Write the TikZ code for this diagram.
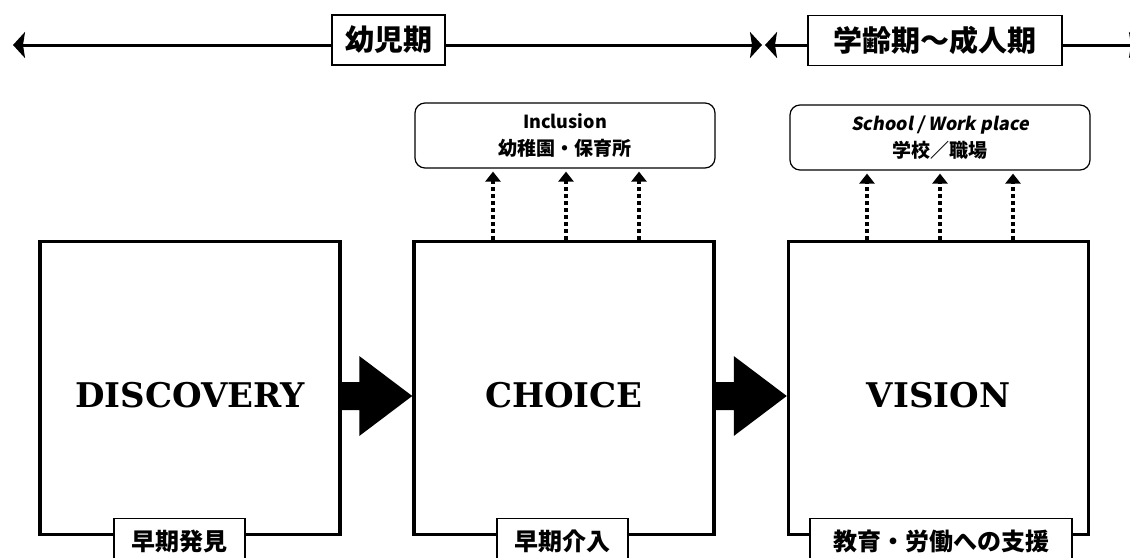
\documentclass[tikz,border=0pt]{standalone}
\usepackage{fontspec}
\newfontfamily\jp{Noto Sans CJK JP}
\newfontfamily\jpsl{Noto Sans CJK JP}[FakeSlant=0.18]
\newfontfamily\heavyserif{DejaVu Serif}
\usetikzlibrary{arrows.meta,calc}
\begin{document}
\begin{tikzpicture}[x=1pt,y=-1pt,
  bigbox/.style={draw,line width=3.5pt,minimum width=300pt,minimum height=293pt,inner sep=0pt},
  bigword/.style={font=\heavyserif\bfseries\fontsize{34}{40}\selectfont},
  period/.style={draw,line width=1.3pt,fill=white,minimum height=50pt,inner sep=0pt,font=\jp\bfseries\fontsize{29}{32}\selectfont},
  phase/.style={draw,line width=1.3pt,fill=white,minimum height=46pt,inner sep=0pt,anchor=north,font=\jp\bfseries\fontsize{24}{28}\selectfont},
  place/.style={draw,line width=1.2pt,rounded corners=10pt,minimum width=300pt,minimum height=65pt,inner sep=0pt,align=center,font=\jp\bfseries\fontsize{19}{27}\selectfont},
  timeline/.style={line width=3pt,-{Stealth[length=12pt,width=26pt,inset=2pt]}},
  dotarrow/.style={line width=3.2pt,dash pattern=on 3.5pt off 3.5pt,-{Triangle[length=10pt,width=15pt]},shorten >=3pt}
]
\useasboundingbox (0,0) rectangle (1130,557);
\clip (0,0) rectangle (1130,557);

% main stage boxes
\node[bigbox] (disc) at (190,388) {};
\node[bigbox] (choice) at (564,388) {};
\node[bigbox] (vision) at (938.5,388) {};
\node[bigword] (discT) at ([yshift=-7pt]disc.center) {DISCOVERY};
\node[bigword] (choiceT) at ([yshift=-7pt]choice.center) {CHOICE};
\node[bigword] (visionT) at ([yshift=-7pt]vision.center) {VISION};

% phase labels at the bottom
\node[phase,minimum width=131pt] (ph1) at (179.5,518) {早期発見};
\node[phase,minimum width=131pt] (ph2) at (562.5,518) {早期介入};
\node[phase,minimum width=262pt] (ph3) at (941,518) {教育・労働への支援};

% big arrows between the boxes
\coordinate (a1s) at ([yshift=-8pt]disc.east);
\coordinate (a1e) at ([yshift=-8pt]choice.west);
\fill ($(a1s)+(0,-14)$) -- ($(a1e)+(-53,-14)$) -- ($(a1e)+(-53,-40)$) -- (a1e)
      -- ($(a1e)+(-53,40)$) -- ($(a1e)+(-53,14)$) -- ($(a1s)+(0,14)$) -- cycle;
\coordinate (a2s) at ([yshift=-8pt]choice.east);
\coordinate (a2e) at ([yshift=-8pt]vision.west);
\fill ($(a2s)+(0,-14)$) -- ($(a2e)+(-53,-14)$) -- ($(a2e)+(-53,-40)$) -- (a2e)
      -- ($(a2e)+(-53,40)$) -- ($(a2e)+(-53,14)$) -- ($(a2s)+(0,14)$) -- cycle;

% place boxes
\node[place] (incl) at (565,135.5) {{\fontsize{18}{20}\selectfont Inclusion}\\幼稚園・保育所};
\node[place] (school) at (940,137.5) {{\jpsl\fontsize{18}{20}\selectfont School / Work place}\\学校／職場};

% dotted arrows
\coordinate (d1) at (493,0);
\coordinate (d2) at (566,0);
\coordinate (d3) at (639,0);
\coordinate (d4) at (867,0);
\coordinate (d5) at (940,0);
\coordinate (d6) at (1013,0);
\foreach \d in {d1,d2,d3}{\draw[dotarrow] (choice.north -| \d) -- (incl.south -| \d);}
\foreach \d in {d4,d5,d6}{\draw[dotarrow] (vision.north -| \d) -- (school.south -| \d);}

% timeline
\node[period,minimum width=113pt] (p1) at (388.5,40) {幼児期};
\node[period,minimum width=254pt] (p2) at (935,40.5) {学齢期～成人期};
\coordinate (L) at (13,45);
\coordinate (M1) at (762,45);
\coordinate (M2) at (765,45);
\coordinate (R) at (1141,45);
\draw[timeline] (L -| p1.west) -- (L);
\draw[timeline] (M1 -| p1.east) -- (M1);
\draw[timeline] (M2 -| p2.west) -- (M2);
\draw[timeline] (R -| p2.east) -- (R);
\end{tikzpicture}
\end{document}
